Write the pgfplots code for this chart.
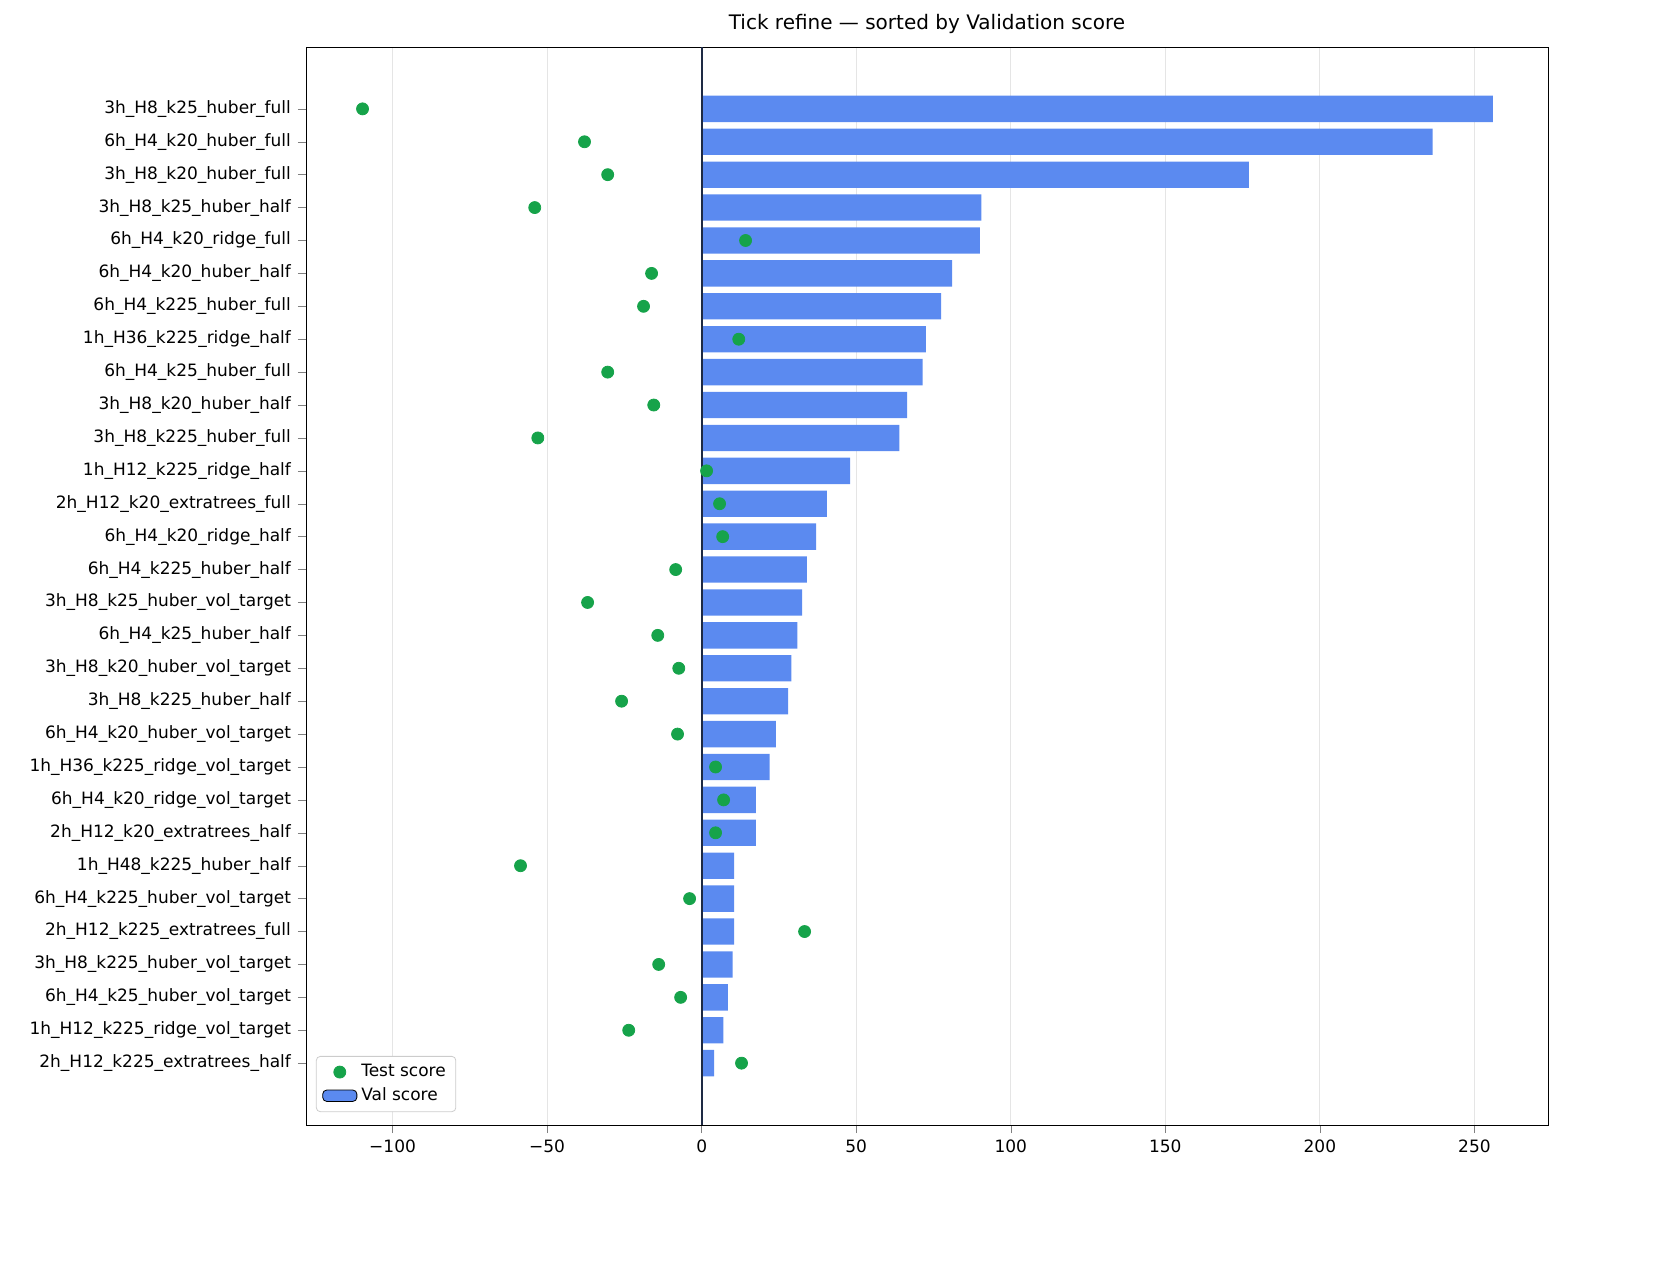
\documentclass[border=0pt]{standalone}
\usepackage{pgfplots}
\pgfplotsset{compat=1.18}
\usepackage{fontspec}
\setmainfont{DejaVu Sans}
\definecolor{barc}{HTML}{5B8AF0}
\definecolor{dotc}{HTML}{16A34A}
\definecolor{zl}{HTML}{1E2A44}
\begin{document}
\begin{tikzpicture}
\path[use as bounding box] (-153pt,-67.5pt) rectangle (687pt,562.5pt);
\begin{axis}[
  scale only axis, width=621pt, height=539pt,
  xmin=-128, xmax=273.8, ymin=-1.88, ymax=30.88, y dir=reverse,
  xtick={-100,-50,0,50,100,150,200,250},
  xticklabels={−100,−50,0,50,100,150,200,250},
  ytick={0,...,29},
  yticklabels={3h\_H8\_k25\_huber\_full,6h\_H4\_k20\_huber\_full,3h\_H8\_k20\_huber\_full,3h\_H8\_k25\_huber\_half,6h\_H4\_k20\_ridge\_full,6h\_H4\_k20\_huber\_half,6h\_H4\_k225\_huber\_full,1h\_H36\_k225\_ridge\_half,6h\_H4\_k25\_huber\_full,3h\_H8\_k20\_huber\_half,3h\_H8\_k225\_huber\_full,1h\_H12\_k225\_ridge\_half,2h\_H12\_k20\_extratrees\_full,6h\_H4\_k20\_ridge\_half,6h\_H4\_k225\_huber\_half,3h\_H8\_k25\_huber\_vol\_target,6h\_H4\_k25\_huber\_half,3h\_H8\_k20\_huber\_vol\_target,3h\_H8\_k225\_huber\_half,6h\_H4\_k20\_huber\_vol\_target,1h\_H36\_k225\_ridge\_vol\_target,6h\_H4\_k20\_ridge\_vol\_target,2h\_H12\_k20\_extratrees\_half,1h\_H48\_k225\_huber\_half,6h\_H4\_k225\_huber\_vol\_target,2h\_H12\_k225\_extratrees\_full,3h\_H8\_k225\_huber\_vol\_target,6h\_H4\_k25\_huber\_vol\_target,1h\_H12\_k225\_ridge\_vol\_target,2h\_H12\_k225\_extratrees\_half},
  ticklabel style={font=\fontsize{8.5}{10}\selectfont},
  xmajorgrids, grid style={gray!20},
  tick align=outside, major tick length=4pt,
  xtick pos=bottom, ytick pos=left,
  title={Tick refine — sorted by Validation score},
  title style={font=\fontsize{10}{12}\selectfont, yshift=-3pt},
  legend cell align=left,
  legend style={at={(0.008,0.012)},anchor=south west,font=\fontsize{8.5}{10}\selectfont,draw=gray!40,rounded corners=2pt},
]
\addlegendimage{only marks,mark=*,mark size=3pt,color=dotc}
\addlegendentry{Test score}
\addplot[xbar, bar width=0.8, fill=barc, draw=none, bar shift=0pt, area legend] coordinates {
(256,0)(236.5,1)(177,2)(90.5,3)(90,4)(81,5)(77.5,6)(72.5,7)(71.5,8)(66.5,9)
(64,10)(48,11)(40.5,12)(37,13)(34,14)(32.5,15)(31,16)(29,17)(28,18)(24,19)
(22,20)(17.5,21)(17.5,22)(10.5,23)(10.5,24)(10.5,25)(10,26)(8.5,27)(7,28)(4,29)};
\addlegendentry{Val score}
\addplot[only marks, mark=*, mark size=3pt, color=dotc, forget plot] coordinates {
(-109.7,0)(-37.9,1)(-30.4,2)(-54,3)(14.2,4)(-16.2,5)(-18.8,6)(12,7)(-30.4,8)(-15.5,9)
(-53,10)(1.6,11)(5.8,12)(6.8,13)(-8.4,14)(-36.9,15)(-14.2,16)(-7.4,17)(-25.9,18)(-7.8,19)
(4.5,20)(7.1,21)(4.5,22)(-58.6,23)(-3.9,24)(33.3,25)(-13.9,26)(-6.8,27)(-23.6,28)(12.9,29)};
\draw[zl, line width=1pt] (axis cs:0,-1.88) -- (axis cs:0,30.88);
\end{axis}
\end{tikzpicture}
\end{document}
